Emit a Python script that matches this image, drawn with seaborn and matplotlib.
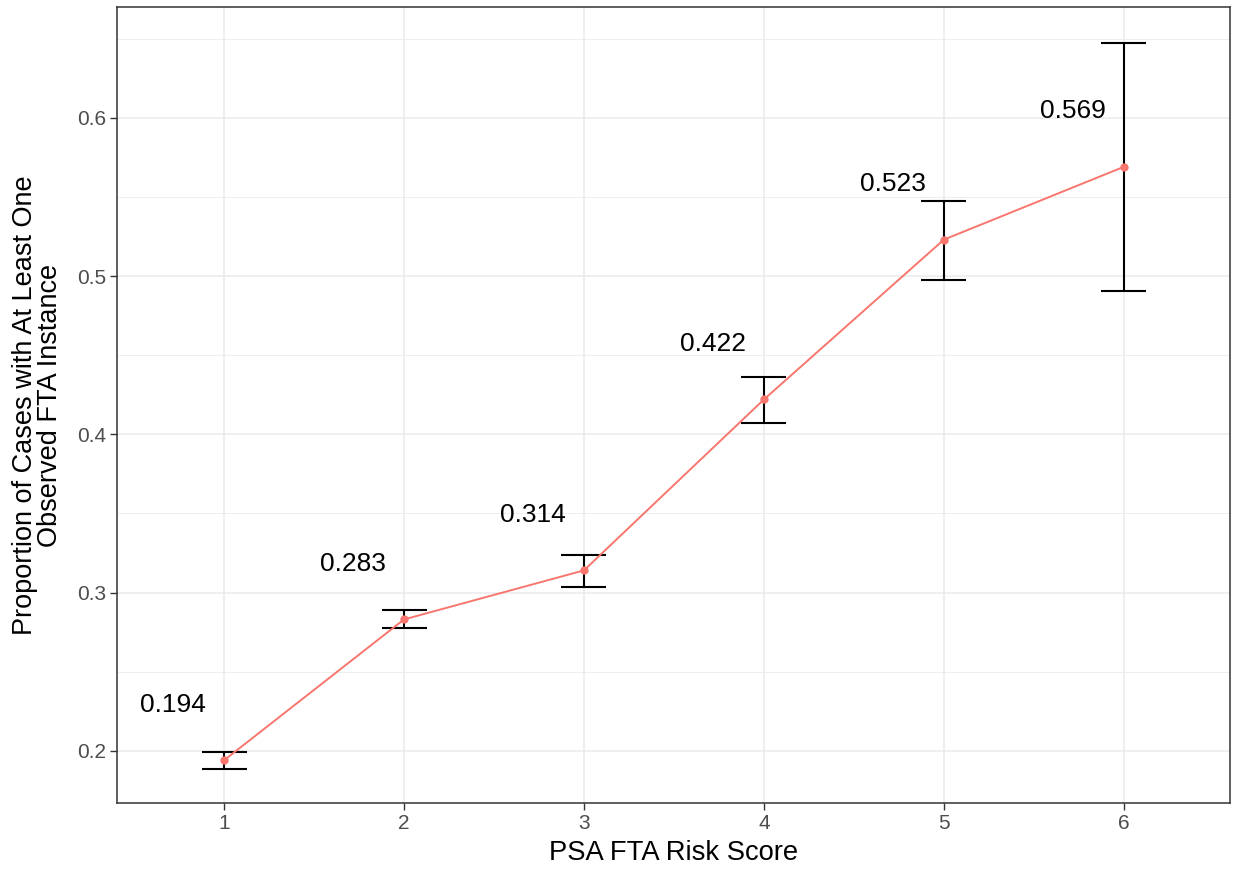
import matplotlib
matplotlib.use("Agg")
import matplotlib.pyplot as plt
import seaborn as sns
import pandas as pd
import numpy as np

# Observed FTA proportions by PSA risk score, with confidence bounds
risk_score = [1, 2, 3, 4, 5, 6]
proportion = [0.194, 0.283, 0.314, 0.422, 0.523, 0.569]
lower = [0.1886, 0.2777, 0.3036, 0.4073, 0.4977, 0.4907]
upper = [0.1994, 0.2890, 0.3239, 0.4363, 0.5476, 0.6470]
value_labels = ["0.194", "0.283", "0.314", "0.422", "0.523", "0.569"]

df = pd.DataFrame({"score": risk_score, "prop": proportion,
                   "lo": lower, "hi": upper, "label": value_labels})

sns.set_theme(style="white")
plt.rcParams["font.family"] = ["Liberation Sans", "DejaVu Sans"]

fig = plt.figure(figsize=(12.35, 8.71), dpi=100)
ax = fig.add_axes([117 / 1235, 1 - 803 / 871, (1230 - 117) / 1235, (803 - 7) / 871])

grid_col = "#EBEBEB"

# error bars with caps
cap_half = 0.125
ax.vlines(df["score"], df["lo"], df["hi"], color="black", linewidth=1.5, zorder=2)
ax.hlines(df["lo"], df["score"] - cap_half, df["score"] + cap_half,
          color="black", linewidth=1.5, zorder=2)
ax.hlines(df["hi"], df["score"] - cap_half, df["score"] + cap_half,
          color="black", linewidth=1.5, zorder=2)

# line and points
sns.lineplot(data=df, x="score", y="prop", color="#F8766D", linewidth=1.4,
             marker="o", markersize=6, markeredgewidth=0, ax=ax, zorder=3)

# value labels
for _, r in df.iterrows():
    ax.text(r["score"] - 0.285, r["prop"] + 0.035, r["label"], ha="center",
            va="center", fontsize=19, color="black")

ax.set_xticks(risk_score)
ax.set_xticklabels([str(s) for s in risk_score])
ax.set_yticks([0.2, 0.3, 0.4, 0.5, 0.6])
ax.set_yticklabels(["0.2", "0.3", "0.4", "0.5", "0.6"])
ax.set_yticks([0.25, 0.35, 0.45, 0.55, 0.65], minor=True)
ax.set_xlim(0.405, 6.59)
ax.set_ylim(0.167, 0.670)
ax.grid(True, which="major", color=grid_col, linewidth=1.1, zorder=0)
ax.grid(True, which="minor", axis="y", color=grid_col, linewidth=0.6, zorder=0)
ax.set_axisbelow(True)

ax.set_xlabel("PSA FTA Risk Score", fontsize=19.7, color="black")
ax.set_ylabel("Proportion of Cases with At Least One\nObserved FTA Instance",
              fontsize=19.5, color="black", linespacing=0.95)
ax.yaxis.set_label_coords(-0.0485, 0.5)
ax.xaxis.set_label_coords(0.5, -0.047)

ax.tick_params(axis="both", which="major", length=5, width=1, color="#333333",
               labelsize=15, labelcolor="#4D4D4D", pad=3,
               bottom=True, left=True)
ax.tick_params(axis="both", which="minor", length=0)
for sp in ax.spines.values():
    sp.set_color("#333333")
    sp.set_linewidth(1.1)
    sp.set_visible(True)

fig.savefig("out.png", dpi=100)
